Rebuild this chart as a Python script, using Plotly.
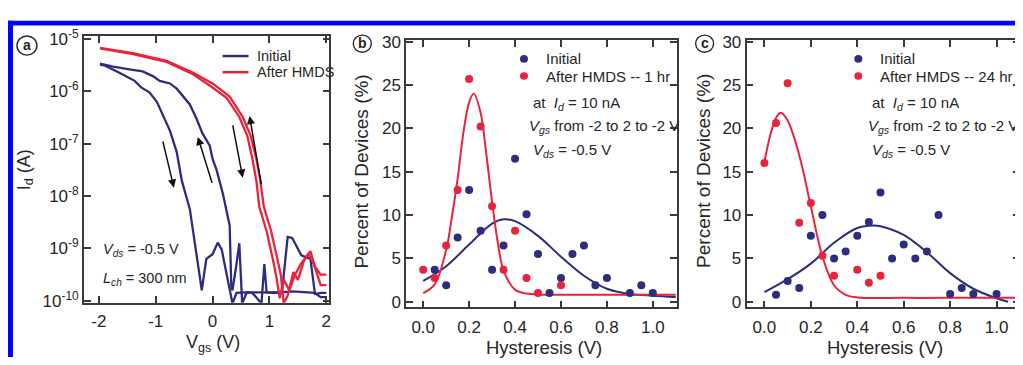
import numpy as np
import plotly.graph_objects as go

# The page body keeps the browser's 8 px margin, so the figure is drawn 8 px in from the
# top-left corner of the 1023x365 window; positions below are given in window pixels.
OFF = 8
W, H = 1023 - OFF, 365 - OFF

# ---------------- Panel a: transfer curves (Vgs in V, log10 of Id in A) ----------------
vgs_init_fwd = [-1.98, -1.89, -1.63, -1.37, -1.25, -1.11, -0.98, -0.88, -0.75, -0.63, -0.54,
                -0.40, -0.32, -0.19, -0.11, 0.0, 0.09, 0.16, 0.35, 0.42, 0.6, 0.8, 1.0, 1.2,
                1.4, 1.6, 1.8, 1.9, 2.0]
logid_init_fwd = [-5.49, -5.51, -5.65, -5.80, -5.93, -6.02, -6.20, -6.44, -6.75, -7.16, -7.71,
                  -8.25, -8.85, -9.80, -9.20, -9.11, -8.89, -9.02, -10.05, -9.85, -9.84, -9.84,
                  -9.83, -9.84, -9.82, -9.84, -9.85, -9.93, -9.93]

vgs_init_rev = [2.0, 1.9, 1.8, 1.72, 1.56, 1.40, 1.32, 1.22, 1.1, 0.95, 0.91, 0.86, 0.7, 0.6,
                0.52, 0.47, 0.42, 0.35, 0.33, 0.30, 0.18, 0.12, 0.07, 0.0, -0.05, -0.18, -0.28,
                -0.40, -0.53, -0.63, -0.75, -0.93, -1.05, -1.23, -1.46, -1.75, -1.98]
logid_init_rev = [-9.85, -9.85, -9.87, -9.2, -9.13, -8.8, -8.78, -9.84, -9.85, -9.84, -9.3,
                  -10.05, -9.85, -9.84, -10.05, -8.9, -9.3, -9.8, -9.75, -8.56, -7.95, -7.7,
                  -7.5, -7.29, -7.04, -6.8, -6.53, -6.25, -6.07, -5.95, -5.85, -5.8, -5.71,
                  -5.62, -5.58, -5.53, -5.47]

vgs_hmds_fwd = [-1.98, -1.40, -0.81, -0.35, -0.05, 0.25, 0.47, 0.61, 0.70, 0.77, 0.82, 0.95,
                1.05, 1.12, 1.18, 1.25, 1.35, 1.45, 1.55, 1.65, 1.72, 1.8, 1.9, 2.0]
logid_hmds_fwd = [-5.18, -5.29, -5.44, -5.67, -5.89, -6.13, -6.49, -6.85, -7.29, -7.71, -8.2,
                  -8.67, -9.16, -9.53, -9.95, -9.6, -9.8, -9.5, -9.3, -9.15, -9.05, -9.35,
                  -9.5, -9.5]

vgs_hmds_rev = [2.0, 1.9, 1.78, 1.68, 1.6, 1.5, 1.42, 1.32, 1.25, 1.2, 1.13, 1.03, 0.9, 0.84,
                0.77, 0.67, 0.53, 0.3, 0.0, -0.35, -0.81, -1.4, -1.98]
logid_hmds_rev = [-9.7, -9.7, -9.3, -9.1, -9.25, -9.6, -9.45, -9.9, -10.05, -9.5, -9.16,
                  -8.67, -8.2, -7.71, -7.29, -6.85, -6.49, -6.1, -5.85, -5.64, -5.42, -5.27,
                  -5.17]

a_xticks = [-2, -1, 0, 1, 2]
a_xticktext = ["-2", "-1", "0", "1", "2"]
a_ydecades = [-10, -9, -8, -7, -6, -5]

# sweep-direction arrows (tail -> head), in (Vgs, log10 Id)
arrow_tails = [(-0.88, -6.93), (0.0, -7.78), (0.35, -6.62), (0.86, -7.80)]
arrow_heads = [(-0.68, -7.84), (-0.26, -6.87), (0.53, -7.65), (0.65, -6.47)]

# ---------------- Panel b: hysteresis histogram, 1 hr ----------------
b_init_x = [0.05, 0.1, 0.15, 0.2, 0.25, 0.3, 0.35, 0.4, 0.45, 0.5, 0.55, 0.6, 0.65, 0.7,
            0.75, 0.8, 0.9, 0.95, 1.0]
b_init_y = [3.7, 1.9, 7.4, 12.9, 8.2, 3.7, 6.5, 16.5, 10.1, 5.5, 1.0, 2.75, 5.5, 6.5, 1.9,
            2.75, 1.0, 1.9, 1.0]
b_hmds_x = [0.0, 0.05, 0.1, 0.15, 0.2, 0.25, 0.3, 0.35, 0.4, 0.45, 0.5, 0.6]
b_hmds_y = [3.7, 2.75, 6.5, 12.9, 25.7, 20.2, 11.0, 3.7, 8.2, 2.75, 1.0, 1.9]

b_init_fit_x = [0.0, 0.1, 0.2, 0.3, 0.35, 0.4, 0.5, 0.6, 0.7, 0.8, 0.9, 1.0, 1.1]
b_init_fit_y = [2.4, 4.1, 6.6, 9.0, 9.5, 9.3, 7.6, 5.2, 3.0, 1.5, 0.9, 0.7, 0.55]
b_hmds_fit_x = [0.0, 0.05, 0.1, 0.125, 0.15, 0.175, 0.2, 0.22, 0.25, 0.275, 0.3, 0.325,
                0.35, 0.4, 0.45, 0.5, 0.6, 0.8, 1.0, 1.1]
b_hmds_fit_y = [1.0, 2.0, 6.0, 9.8, 14.2, 19.5, 23.0, 24.0, 21.8, 17.0, 11.5, 6.8, 3.6, 1.4,
                0.95, 0.85, 0.8, 0.8, 0.8, 0.8]

# ---------------- Panel c: hysteresis histogram, 24 hr ----------------
c_init_x = [0.05, 0.1, 0.15, 0.2, 0.25, 0.3, 0.35, 0.4, 0.45, 0.5, 0.55, 0.6, 0.65, 0.7,
            0.75, 0.8, 0.85, 0.9, 1.0]
c_init_y = [0.8, 2.4, 1.6, 7.6, 10.0, 5.0, 5.8, 7.6, 9.2, 12.6, 5.0, 6.6, 5.0, 5.8, 10.0,
            0.9, 1.6, 0.9, 0.9]
c_hmds_x = [0.0, 0.05, 0.1, 0.15, 0.2, 0.25, 0.3, 0.4, 0.45, 0.5]
c_hmds_y = [16.0, 20.6, 25.2, 9.1, 11.4, 5.3, 3.0, 3.7, 2.2, 3.0]

c_init_fit_x = [0.0, 0.1, 0.2, 0.3, 0.4, 0.47, 0.5, 0.6, 0.7, 0.8, 0.9, 1.0, 1.05]
c_init_fit_y = [1.1, 2.6, 4.4, 6.8, 8.5, 8.8, 8.7, 7.7, 5.7, 3.3, 1.5, 0.4, 0.0]
c_hmds_fit_x = [0.0, 0.025, 0.05, 0.07, 0.1, 0.15, 0.2, 0.25, 0.3, 0.35, 0.4, 0.6, 0.8, 1.1]
c_hmds_fit_y = [16.1, 19.2, 21.2, 21.8, 20.9, 16.9, 11.0, 5.2, 1.9, 0.8, 0.5, 0.45, 0.45, 0.45]

hyst_ticks = [0.0, 0.2, 0.4, 0.6, 0.8, 1.0]
pct_ticks = [0, 5, 10, 15, 20, 25, 30]

# ---------------- styling ----------------
BLUE = "#2c2d7e"
RED = "#e8233c"
AXC = "#3a3a3a"
TXT = "#262626"
FONT = "Liberation Sans, Arial, Helvetica, sans-serif"


def pxx(x):
    return (x - OFF) / W


def pxy(y):
    return 1 - (y - OFF) / H


fig = go.Figure()

for xs, ls, col in [(vgs_init_fwd, logid_init_fwd, BLUE), (vgs_init_rev, logid_init_rev, BLUE),
                    (vgs_hmds_fwd, logid_hmds_fwd, RED), (vgs_hmds_rev, logid_hmds_rev, RED)]:
    fig.add_trace(go.Scatter(x=xs, y=10 ** np.array(ls), mode="lines",
                             line=dict(color=col, width=2.3), xaxis="x", yaxis="y",
                             showlegend=False, hoverinfo="skip"))

for ax, ay, fx, fy in [("x2", "y2", b_init_fit_x, b_init_fit_y), ("x3", "y3", c_init_fit_x, c_init_fit_y)]:
    fig.add_trace(go.Scatter(x=fx, y=fy, mode="lines", line=dict(color=BLUE, width=2, shape="spline"),
                             xaxis=ax, yaxis=ay, showlegend=False))
for ax, ay, fx, fy in [("x2", "y2", b_hmds_fit_x, b_hmds_fit_y), ("x3", "y3", c_hmds_fit_x, c_hmds_fit_y)]:
    fig.add_trace(go.Scatter(x=fx, y=fy, mode="lines", line=dict(color=RED, width=2, shape="spline"),
                             xaxis=ax, yaxis=ay, showlegend=False))
for ax, ay, sx, sy, col in [("x2", "y2", b_init_x, b_init_y, BLUE), ("x2", "y2", b_hmds_x, b_hmds_y, RED),
                            ("x3", "y3", c_init_x, c_init_y, BLUE), ("x3", "y3", c_hmds_x, c_hmds_y, RED)]:
    fig.add_trace(go.Scatter(x=sx, y=sy, mode="markers", marker=dict(color=col, size=8),
                             xaxis=ax, yaxis=ay, showlegend=False, cliponaxis=False))

common = dict(showline=True, linecolor=AXC, linewidth=1.6, mirror="allticks", ticks="inside",
              ticklen=7, tickwidth=1.5, tickcolor=AXC, showgrid=False, zeroline=False,
              tickfont=dict(family=FONT, size=17, color=TXT))

fig.update_layout(
    width=W, height=H, margin=dict(l=0, r=0, t=0, b=0),
    paper_bgcolor="white", plot_bgcolor="white", showlegend=False,
    font=dict(family=FONT, color=TXT),
    xaxis=dict(domain=[pxx(84), pxx(330)], range=[-2.263, 2.053], anchor="y",
               tickvals=a_xticks, ticktext=a_xticktext, ticklabelstandoff=2, **common),
    yaxis=dict(domain=[pxy(308), pxy(28)], type="log", range=[-10.036, -4.945], anchor="x",
               tickvals=[10.0 ** d for d in a_ydecades],
               ticktext=["10<sup>%d</sup>" % d for d in a_ydecades], **common),
    xaxis2=dict(domain=[pxx(407), pxx(678)], range=[-0.074, 1.104], anchor="y2",
                tickvals=hyst_ticks, ticktext=["%.1f" % v for v in hyst_ticks], ticklabelstandoff=3,
                **common),
    yaxis2=dict(domain=[pxy(313), pxy(32)], range=[-0.66, 30.2], anchor="x2",
                tickvals=pct_ticks, **common),
    xaxis3=dict(domain=[pxx(748), pxx(1022)], range=[-0.077, 1.101], anchor="y3",
                tickvals=hyst_ticks, ticktext=["%.1f" % v for v in hyst_ticks], ticklabelstandoff=3,
                **common),
    yaxis3=dict(domain=[pxy(313), pxy(32)], range=[-0.66, 30.2], anchor="x3",
                tickvals=pct_ticks, **common),
)

shapes = []
anns = []

# blue frame of the figure
shapes.append(dict(type="rect", xref="paper", yref="paper", x0=pxx(8), x1=pxx(1023), y0=pxy(17),
                   y1=pxy(12), fillcolor="#0000ff", line=dict(width=0), layer="above"))
shapes.append(dict(type="rect", xref="paper", yref="paper", x0=pxx(8), x1=pxx(13), y0=pxy(365),
                   y1=pxy(12), fillcolor="#0000ff", line=dict(width=0), layer="above"))

# circled panel letters
for cx, cy, r, letter in [(27, 38, 10, "a"), (363, 36, 9, "b"), (706, 36, 9, "c")]:
    shapes.append(dict(type="circle", xref="paper", yref="paper", x0=pxx(cx - r), x1=pxx(cx + r),
                       y0=pxy(cy + r), y1=pxy(cy - r), line=dict(color=TXT, width=1.4)))
    anns.append(dict(text="<b>%s</b>" % letter, x=pxx(cx), y=pxy(cy - 0.5), xref="paper", yref="paper",
                     showarrow=False, xanchor="center", yanchor="middle",
                     font=dict(family=FONT, size=14, color=TXT)))

# panel a legend and notes
for yy, col, lab in [(49, BLUE, "Initial"), (66, RED, "After HMDS")]:
    shapes.append(dict(type="line", xref="paper", yref="paper", x0=pxx(223), x1=pxx(249), y0=pxy(yy),
                       y1=pxy(yy), line=dict(color=col, width=2.5)))
    anns.append(dict(text=lab, x=pxx(255), y=pxy(yy), xref="paper", yref="paper", showarrow=False,
                     xanchor="left", yanchor="middle", font=dict(family=FONT, size=14.5, color=TXT)))
anns.append(dict(text="<i>V</i><sub><i>ds</i></sub> = -0.5 V", x=pxx(101), y=pxy(253), xref="paper",
                 yref="paper", showarrow=False, xanchor="left", yanchor="middle",
                 font=dict(family=FONT, size=14.5, color=TXT)))
anns.append(dict(text="<i>L</i><sub><i>ch</i></sub> = 300 nm", x=pxx(101), y=pxy(283), xref="paper",
                 yref="paper", showarrow=False, xanchor="left", yanchor="middle",
                 font=dict(family=FONT, size=14.5, color=TXT)))

# sweep arrows
for (tx, ty), (hx, hy) in zip(arrow_tails, arrow_heads):
    anns.append(dict(x=hx, y=hy, ax=tx, ay=ty, xref="x", yref="y", axref="x", ayref="y", text="",
                     showarrow=True, arrowhead=2, arrowsize=1.1, arrowwidth=1.5, arrowcolor="#111111"))

# axis titles
anns.append(dict(text="I<sub>d</sub> (A)", x=pxx(25), y=pxy(168), xref="paper", yref="paper",
                 showarrow=False, textangle=-90, xanchor="center", yanchor="middle",
                 font=dict(family=FONT, size=18, color=TXT)))
anns.append(dict(text="V<sub>gs</sub> (V)", x=pxx(213), y=pxy(351), xref="paper", yref="paper",
                 showarrow=False, xanchor="center", yanchor="middle", borderpad=0,
                 font=dict(family=FONT, size=18, color=TXT)))
for cx, ty in [(545, 355), (887, 355)]:
    anns.append(dict(text="Hysteresis (V)", x=pxx(cx), y=pxy(ty), xref="paper", yref="paper",
                     showarrow=False, xanchor="center", yanchor="middle", borderpad=0,
                     font=dict(family=FONT, size=18.5, color=TXT)))
for cx in [362, 705]:
    anns.append(dict(text="Percent of Devices (%)", x=pxx(cx), y=pxy(170), xref="paper", yref="paper",
                     showarrow=False, textangle=-90, xanchor="center", yanchor="middle",
                     font=dict(family=FONT, size=19, color=TXT)))

# panel b / c legends and notes
for dotx, textx, notex, label in [(525, 545, 532, "After HMDS -- 1 hr"), (860, 880, 872, "After HMDS -- 24 hr")]:
    for yy, col, lab in [(52, BLUE, "Initial"), (70, RED, label)]:
        shapes.append(dict(type="circle", xref="paper", yref="paper", x0=pxx(dotx - 4), x1=pxx(dotx + 4),
                           y0=pxy(yy + 4), y1=pxy(yy - 4), fillcolor=col, line=dict(width=0)))
        anns.append(dict(text=lab, x=pxx(textx), y=pxy(yy), xref="paper", yref="paper", showarrow=False,
                         xanchor="left", yanchor="middle", font=dict(family=FONT, size=15, color=TXT)))
    notes = [("at\u00a0\u00a0<i>I</i><sub><i>d</i></sub> = 10 nA", notex, 99),
             ("<i>V</i><sub><i>gs</i></sub> from -2 to 2 to -2 V", notex - 4, 123),
             ("<i>V</i><sub><i>ds</i></sub> = -0.5 V", notex, 148)]
    for t, xx, yy in notes:
        anns.append(dict(text=t, x=pxx(xx), y=pxy(yy), xref="paper", yref="paper", showarrow=False,
                         xanchor="left", yanchor="middle", font=dict(family=FONT, size=15, color=TXT)))

fig.update_layout(shapes=shapes, annotations=anns)

fig.write_html("out.html", config={"displayModeBar": False})
